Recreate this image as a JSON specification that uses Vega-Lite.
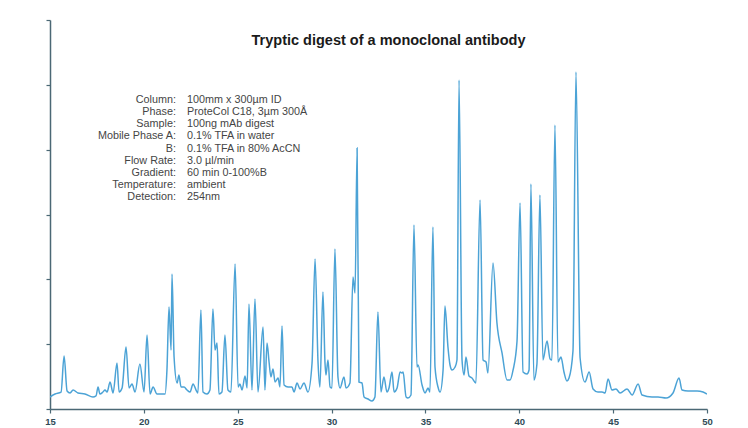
{
  "$schema": "https://vega.github.io/schema/vega-lite/v6.json",
  "width": 657,
  "height": 389,
  "autosize": {"type": "none"},
  "padding": {"left": 50, "top": 20, "right": 41, "bottom": 19},
  "background": "#ffffff",
  "config": {
    "view": {"stroke": null},
    "font": "Liberation Sans"
  },
  "title": {
    "text": "Tryptic digest of a monoclonal antibody",
    "anchor": "middle",
    "frame": "group",
    "offset": -29,
    "dx": 10,
    "fontSize": 14.5,
    "font": "Liberation Sans",
    "fontWeight": "bold",
    "color": "#1a1a1a"
  },
  "resolve": {"scale": {"y": "independent"}, "axis": {"y": "independent"}},
  "layer": [
    {
      "data": {
        "values": [
          {"time":15.00,"abs":0.185},{"time":15.27,"abs":0.231},{"time":15.59,"abs":0.262},{"time":15.75,"abs":0.818},{"time":15.91,"abs":0.278},
          {"time":16.07,"abs":0.247},{"time":16.23,"abs":0.293},{"time":16.49,"abs":0.247},{"time":16.86,"abs":0.231},{"time":17.29,"abs":0.185},
          {"time":17.45,"abs":0.201},{"time":17.56,"abs":0.339},{"time":17.66,"abs":0.231},{"time":17.82,"abs":0.262},{"time":17.93,"abs":0.293},
          {"time":18.04,"abs":0.262},{"time":18.20,"abs":0.416},{"time":18.36,"abs":0.247},{"time":18.57,"abs":0.710},{"time":18.68,"abs":0.262},
          {"time":18.84,"abs":0.324},{"time":19.05,"abs":0.956},{"time":19.21,"abs":0.324},{"time":19.37,"abs":0.386},{"time":19.53,"abs":0.262},
          {"time":19.79,"abs":0.694},{"time":20.01,"abs":0.262},{"time":20.17,"abs":1.141},{"time":20.33,"abs":0.231},{"time":20.49,"abs":0.339},
          {"time":20.70,"abs":0.231},{"time":21.13,"abs":0.231},{"time":21.23,"abs":0.602},{"time":21.34,"abs":1.573},{"time":21.45,"abs":0.910},
          {"time":21.50,"abs":2.082},{"time":21.61,"abs":0.802},{"time":21.77,"abs":0.401},{"time":21.87,"abs":0.524},{"time":21.98,"abs":0.339},
          {"time":22.14,"abs":0.339},{"time":22.30,"abs":0.293},{"time":22.46,"abs":0.262},{"time":22.62,"abs":0.386},{"time":22.78,"abs":0.293},
          {"time":22.88,"abs":0.247},{"time":23.04,"abs":1.527},{"time":23.15,"abs":0.262},{"time":23.36,"abs":0.231},{"time":23.52,"abs":0.293},
          {"time":23.68,"abs":1.543},{"time":23.79,"abs":0.910},{"time":23.90,"abs":1.018},{"time":24.00,"abs":0.231},{"time":24.16,"abs":0.262},
          {"time":24.32,"abs":1.141},{"time":24.48,"abs":0.293},{"time":24.64,"abs":0.262},{"time":24.86,"abs":2.237},{"time":25.02,"abs":0.339},
          {"time":25.12,"abs":0.386},{"time":25.23,"abs":0.293},{"time":25.39,"abs":0.509},{"time":25.50,"abs":0.324},{"time":25.60,"abs":1.620},
          {"time":25.76,"abs":0.293},{"time":25.92,"abs":1.697},{"time":26.08,"abs":0.262},{"time":26.35,"abs":1.265},{"time":26.45,"abs":0.293},
          {"time":26.56,"abs":1.018},{"time":26.67,"abs":0.725},{"time":26.77,"abs":0.494},{"time":26.88,"abs":0.617},{"time":26.99,"abs":0.416},
          {"time":27.15,"abs":0.478},{"time":27.25,"abs":0.339},{"time":27.36,"abs":1.280},{"time":27.47,"abs":0.370},{"time":27.68,"abs":0.339},
          {"time":27.89,"abs":0.339},{"time":28.00,"abs":0.262},{"time":28.16,"abs":0.401},{"time":28.32,"abs":0.309},{"time":28.53,"abs":0.401},
          {"time":28.74,"abs":0.262},{"time":28.96,"abs":0.710},{"time":29.12,"abs":2.314},{"time":29.28,"abs":0.710},{"time":29.38,"abs":0.339},
          {"time":29.54,"abs":1.805},{"time":29.65,"abs":0.710},{"time":29.70,"abs":0.524},{"time":29.81,"abs":0.756},{"time":29.92,"abs":0.339},
          {"time":30.02,"abs":0.324},{"time":30.18,"abs":2.468},{"time":30.34,"abs":0.494},{"time":30.45,"abs":0.324},{"time":30.66,"abs":0.494},
          {"time":30.77,"abs":0.324},{"time":30.98,"abs":0.401},{"time":31.14,"abs":2.036},{"time":31.25,"abs":1.789},{"time":31.36,"abs":4.026},
          {"time":31.46,"abs":0.416},{"time":31.62,"abs":0.401},{"time":31.73,"abs":0.185},{"time":31.94,"abs":0.154},{"time":32.15,"abs":0.123},
          {"time":32.31,"abs":0.185},{"time":32.47,"abs":1.496},{"time":32.63,"abs":0.262},{"time":32.79,"abs":0.494},{"time":32.95,"abs":0.262},
          {"time":33.06,"abs":0.324},{"time":33.22,"abs":0.571},{"time":33.33,"abs":0.262},{"time":33.49,"abs":0.324},{"time":33.65,"abs":0.571},
          {"time":33.75,"abs":0.555},{"time":33.81,"abs":0.571},{"time":33.97,"abs":0.185},{"time":34.07,"abs":0.170},{"time":34.23,"abs":0.216},
          {"time":34.39,"abs":2.838},{"time":34.55,"abs":0.648},{"time":34.61,"abs":0.679},{"time":34.82,"abs":0.370},{"time":34.98,"abs":0.247},
          {"time":35.14,"abs":0.324},{"time":35.24,"abs":0.262},{"time":35.40,"abs":2.807},{"time":35.51,"abs":0.648},{"time":35.67,"abs":0.339},
          {"time":35.78,"abs":0.262},{"time":35.94,"abs":0.602},{"time":36.04,"abs":1.589},{"time":36.20,"abs":0.956},{"time":36.31,"abs":0.679},
          {"time":36.42,"abs":0.602},{"time":36.58,"abs":0.648},{"time":36.68,"abs":0.756},{"time":36.79,"abs":5.075},{"time":36.95,"abs":0.756},
          {"time":37.06,"abs":0.524},{"time":37.16,"abs":0.802},{"time":37.32,"abs":0.509},{"time":37.48,"abs":0.478},{"time":37.69,"abs":0.401},
          {"time":37.91,"abs":3.224},{"time":38.07,"abs":0.756},{"time":38.23,"abs":0.725},{"time":38.33,"abs":0.555},{"time":38.60,"abs":2.252},
          {"time":38.81,"abs":1.327},{"time":39.08,"abs":0.864},{"time":39.35,"abs":0.447},{"time":39.51,"abs":0.447},{"time":39.67,"abs":0.602},
          {"time":39.88,"abs":1.049},{"time":40.04,"abs":3.178},{"time":40.20,"abs":0.571},{"time":40.41,"abs":0.540},{"time":40.52,"abs":0.602},
          {"time":40.62,"abs":3.471},{"time":40.78,"abs":0.447},{"time":40.94,"abs":0.694},{"time":41.10,"abs":3.301},{"time":41.26,"abs":0.756},
          {"time":41.48,"abs":1.049},{"time":41.64,"abs":0.771},{"time":41.74,"abs":0.756},{"time":41.90,"abs":4.381},{"time":42.06,"abs":0.725},
          {"time":42.22,"abs":0.802},{"time":42.38,"abs":0.571},{"time":42.54,"abs":0.432},{"time":42.65,"abs":0.478},{"time":42.86,"abs":0.895},
          {"time":43.02,"abs":5.198},{"time":43.24,"abs":0.787},{"time":43.50,"abs":0.416},{"time":43.72,"abs":0.571},{"time":43.93,"abs":0.309},
          {"time":44.19,"abs":0.262},{"time":44.41,"abs":0.262},{"time":44.57,"abs":0.247},{"time":44.73,"abs":0.463},{"time":44.94,"abs":0.293},
          {"time":45.15,"abs":0.309},{"time":45.37,"abs":0.247},{"time":45.74,"abs":0.309},{"time":46.01,"abs":0.216},{"time":46.33,"abs":0.386},
          {"time":46.54,"abs":0.216},{"time":47.07,"abs":0.185},{"time":47.39,"abs":0.185},{"time":47.82,"abs":0.170},{"time":48.19,"abs":0.247},
          {"time":48.51,"abs":0.478},{"time":48.67,"abs":0.293},{"time":48.99,"abs":0.278},{"time":49.47,"abs":0.278},{"time":49.79,"abs":0.262},
          {"time":50.00,"abs":0.231}
        ]
      },
      "mark": {"type": "line", "color": "#4ca3d6", "strokeWidth": 1.5, "interpolate": "monotone", "clip": true},
      "encoding": {
        "x": {
          "field": "time", "type": "quantitative",
          "scale": {"domain": [15, 50], "nice": false, "zero": false},
          "axis": {
            "title": null, "grid": false, "values": [15, 20, 25, 30, 35, 40, 45, 50],
            "domainColor": "#4b6875", "domainWidth": 1.5, "tickColor": "#4b6875", "tickWidth": 1.2, "tickSize": 4,
            "labelColor": "#2f4a56", "labelFontSize": 9.5, "labelFontWeight": "bold", "labelFont": "Liberation Sans", "labelPadding": 3,
            "labelFlush": false
          }
        },
        "y": {
          "field": "abs", "type": "quantitative",
          "scale": {"domain": [0, 6], "nice": false},
          "axis": {
            "title": null, "grid": false, "labels": false, "values": [0, 1, 2, 3, 4, 5, 6],
            "domainColor": "#4b6875", "domainWidth": 1.5, "tickColor": "#4b6875", "tickWidth": 1.2, "tickSize": 4
          }
        }
      }
    },
    {
      "data": {
        "values": [
          {"row": 1, "label": "Column:", "value": "100mm x 300µm ID"},
          {"row": 2, "label": "Phase:", "value": "ProteCol C18, 3µm 300Å"},
          {"row": 3, "label": "Sample:", "value": "100ng mAb digest"},
          {"row": 4, "label": "Mobile Phase A:", "value": "0.1% TFA in water"},
          {"row": 5, "label": "B:", "value": "0.1% TFA in 80% AcCN"},
          {"row": 6, "label": "Flow Rate:", "value": "3.0 µl/min"},
          {"row": 7, "label": "Gradient:", "value": "60 min 0-100%B"},
          {"row": 8, "label": "Temperature:", "value": "ambient"},
          {"row": 9, "label": "Detection:", "value": "254nm"}
        ]
      },
      "layer": [
        {
          "mark": {"type": "text", "align": "right", "baseline": "middle", "fontSize": 10.8, "font": "Liberation Sans", "color": "#454545"},
          "encoding": {
            "x": {"datum": 21.71, "type": "quantitative"},
            "y": {"field": "row", "type": "ordinal", "scale": {"type": "point", "range": [80, 177], "padding": 0}, "axis": null},
            "text": {"field": "label"}
          }
        },
        {
          "mark": {"type": "text", "align": "left", "baseline": "middle", "fontSize": 10.8, "font": "Liberation Sans", "color": "#454545"},
          "encoding": {
            "x": {"datum": 22.30, "type": "quantitative"},
            "y": {"field": "row", "type": "ordinal", "scale": {"type": "point", "range": [80, 177], "padding": 0}, "axis": null},
            "text": {"field": "value"}
          }
        }
      ]
    }
  ]
}
